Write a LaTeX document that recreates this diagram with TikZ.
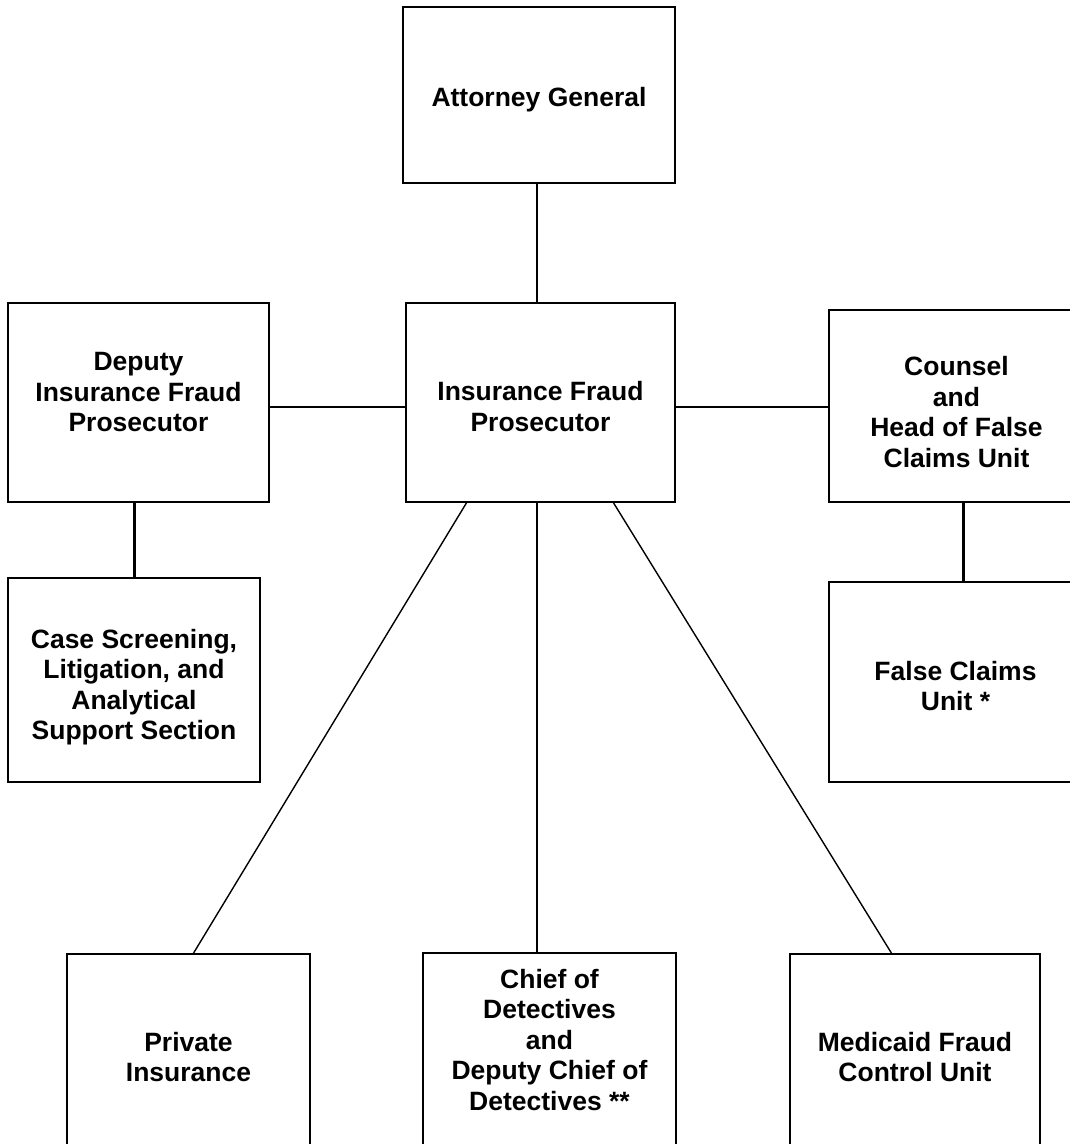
\documentclass[tikz,border=0pt]{standalone}
\usepackage{fontspec}
\setmainfont{Liberation Sans}
\begin{document}
\begin{tikzpicture}[x=1pt,y=-1pt,
  orgbox/.style={draw=black, line width=2pt, fill=white, rectangle, inner sep=0pt, outer sep=0pt},
  boxtext/.style={inner sep=0pt, align=center, font=\bfseries\fontsize{26.5}{30.5}\selectfont},
  link/.style={draw=black, line width=2pt},
  thicklink/.style={draw=black, line width=3pt},
  thinlink/.style={draw=black, line width=1.4pt}]
\useasboundingbox (0,0) rectangle (1069,1144);
% boxes
\node[orgbox, minimum width=272, minimum height=176] (ag) at (539,95) {};
\node[orgbox, minimum width=269, minimum height=199] (ifp) at (540.5,402.5) {};
\node[orgbox, minimum width=261, minimum height=199] (dep) at (138.5,402.5) {};
\node[orgbox, minimum width=261, minimum height=192] (cou) at (959.5,406) {};
\node[orgbox, minimum width=252, minimum height=204] (cs) at (134,680) {};
\node[orgbox, minimum width=261, minimum height=200] (fc) at (959.5,682) {};
\node[orgbox, line width=1.6pt, minimum width=243, minimum height=206] (pi) at (188.5,1057) {};
\node[orgbox, line width=1.6pt, minimum width=253, minimum height=207] (ch) at (549.5,1056.5) {};
\node[orgbox, line width=1.6pt, minimum width=250, minimum height=206] (mf) at (915,1057) {};
% texts
\node[boxtext] (agT) at ([yshift=-5pt]ag.center) {Attorney General};
\node[boxtext] (ifpT) at ([yshift=-4pt]ifp.center) {Insurance Fraud\\Prosecutor};
\node[boxtext] (depT) at ([yshift=10pt]dep.center) {Deputy\\Insurance Fraud\\Prosecutor};
\node[boxtext] (couT) at ([xshift=-3pt,yshift=-6pt]cou.center) {Counsel\\and\\Head of False\\Claims Unit};
\node[boxtext] (csT) at ([yshift=-7pt]cs.center) {Case Screening,\\Litigation, and\\Analytical\\Support Section};
\node[boxtext] (fcT) at ([xshift=-4pt,yshift=-4pt]fc.center) {False Claims\\Unit *};
\node[boxtext] (piT) at (pi.center) {Private\\Insurance};
\node[boxtext] (chT) at ([yshift=16.5pt]ch.center) {Chief of\\Detectives\\and\\Deputy Chief of\\Detectives **};
\node[boxtext] (mfT) at (mf.center) {Medicaid Fraud\\Control Unit};
% connectors
\draw[link] ([xshift=-2pt]ag.south) -- ([xshift=-2pt]ag.south |- ifp.north);
\draw[link] ([yshift=-4.5pt]dep.east) -- ([yshift=-4.5pt]ifp.west);
\draw[link] ([yshift=-4.5pt]ifp.east) -- ([yshift=-4.5pt]ifp.east -| cou.west);
\draw[thicklink] (dep.south -| cs.north) -- (cs.north);
\draw[thicklink] ([xshift=3.5pt]cou.south) -- ([xshift=3.5pt]cou.south |- fc.north);
\draw[thinlink] ([xshift=-73.5pt]ifp.south) -- ([xshift=4.5pt]pi.north);
\draw[thinlink] ([xshift=-3.5pt]ifp.south) -- ([xshift=-3.5pt]ifp.south |- ch.north);
\draw[thinlink] ([xshift=72.5pt]ifp.south) -- ([xshift=-23pt]mf.north);
\end{tikzpicture}
\end{document}
